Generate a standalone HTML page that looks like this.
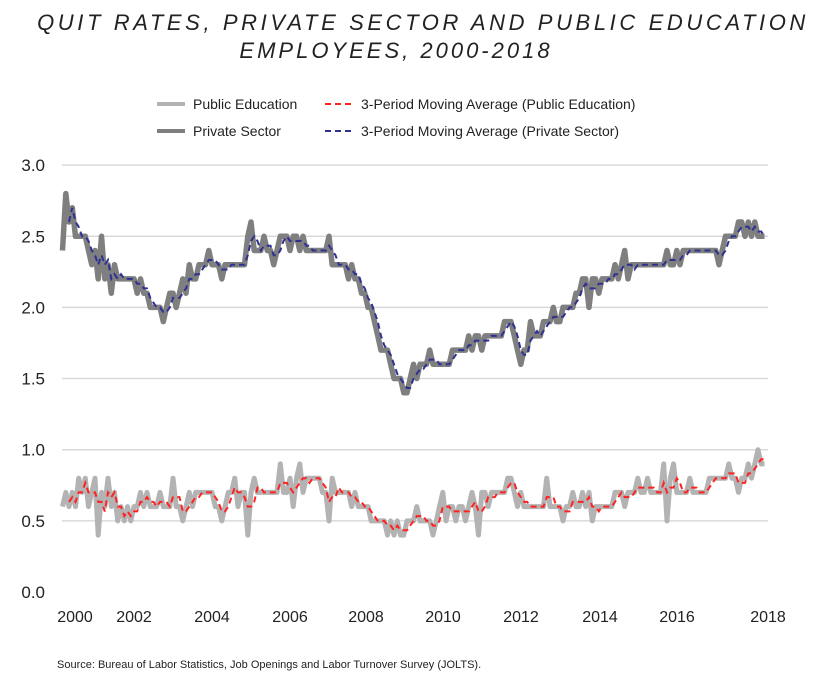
<!DOCTYPE html>
<html><head><meta charset="utf-8"><style>
body{margin:0;background:#fff;}
svg text{font-family:"Liberation Sans",Arial,sans-serif;}
</style></head><body>
<svg width="825" height="678" viewBox="0 0 825 678" xmlns="http://www.w3.org/2000/svg">
<rect width="825" height="678" fill="#fff"/>
<text x="423" y="30" text-anchor="middle" font-size="22" font-style="italic" letter-spacing="3.6" fill="#222">QUIT RATES, PRIVATE SECTOR AND PUBLIC EDUCATION</text>
<text x="396" y="58" text-anchor="middle" font-size="22" font-style="italic" letter-spacing="3" fill="#222">EMPLOYEES, 2000-2018</text>
<g font-size="14" fill="#222">
<g><line x1="157" y1="104" x2="185" y2="104" stroke="#b3b3b3" stroke-width="4"/><text x="193" y="109">Public Education</text></g>
<g><line x1="325" y1="104" x2="353" y2="104" stroke="#f22" stroke-width="2" stroke-dasharray="6,4"/><text x="361" y="109">3-Period Moving Average (Public Education)</text></g>
<g><line x1="157" y1="131" x2="185" y2="131" stroke="#7f7f7f" stroke-width="4"/><text x="193" y="136">Private Sector</text></g>
<g><line x1="325" y1="131" x2="353" y2="131" stroke="#2e3192" stroke-width="2" stroke-dasharray="6,4"/><text x="361" y="136">3-Period Moving Average (Private Sector)</text></g>
</g>
<g id="grid"></g>
<g id="yax"></g>
<g id="xax"></g>
<g id="series"></g>
<text x="57" y="668" font-size="11" fill="#222">Source: Bureau of Labor Statistics, Job Openings and Labor Turnover Survey (JOLTS).</text>
</svg>
<script>
const yTicks=[0,0.5,1.0,1.5,2.0,2.5,3.0];
const yTickLabels=["0.0","0.5","1.0","1.5","2.0","2.5","3.0"];
const xTickYears=[2000,2002,2004,2006,2008,2010,2012,2014,2016,2018];
const xTickLabels=["2000","2002","2004","2006","2008","2010","2012","2014","2016","2018"];
const startYear=2000;
const privateSector=[
2.4,2.8,2.6,2.7,2.5,2.5,2.5,2.5,2.4,2.3,2.4,2.2,
2.5,2.2,2.3,2.1,2.3,2.2,2.2,2.2,2.2,2.2,2.2,2.1,
2.2,2.1,2.1,2.0,2.0,2.0,2.0,1.9,2.0,2.1,2.1,2.0,
2.1,2.2,2.1,2.3,2.2,2.2,2.3,2.3,2.3,2.4,2.3,2.3,
2.3,2.2,2.3,2.3,2.3,2.3,2.3,2.3,2.3,2.5,2.6,2.4,
2.4,2.4,2.5,2.4,2.4,2.3,2.4,2.5,2.5,2.5,2.4,2.5,
2.5,2.4,2.5,2.4,2.4,2.4,2.4,2.4,2.4,2.4,2.5,2.3,
2.3,2.3,2.3,2.3,2.2,2.3,2.2,2.2,2.1,2.1,2.0,2.0,
1.9,1.8,1.7,1.7,1.7,1.6,1.5,1.5,1.5,1.4,1.4,1.5,
1.6,1.5,1.6,1.6,1.6,1.7,1.6,1.6,1.6,1.6,1.6,1.6,
1.7,1.7,1.7,1.7,1.7,1.8,1.7,1.8,1.8,1.7,1.8,1.8,
1.8,1.8,1.8,1.8,1.9,1.9,1.9,1.8,1.7,1.6,1.7,1.7,
1.9,1.8,1.8,1.8,1.9,1.9,1.9,2.0,1.9,1.9,2.0,2.0,
2.0,2.0,2.1,2.1,2.2,2.2,2.0,2.2,2.2,2.1,2.2,2.2,
2.2,2.2,2.3,2.2,2.3,2.4,2.2,2.3,2.3,2.3,2.3,2.3,
2.3,2.3,2.3,2.3,2.3,2.3,2.4,2.3,2.3,2.4,2.3,2.4,
2.4,2.4,2.4,2.4,2.4,2.4,2.4,2.4,2.4,2.4,2.3,2.4,
2.5,2.5,2.5,2.5,2.6,2.6,2.5,2.6,2.5,2.6,2.5,2.5,
2.5];
const publicEducation=[
0.6,0.7,0.6,0.7,0.6,0.8,0.7,0.8,0.6,0.7,0.8,0.4,
0.7,0.6,0.8,0.6,0.7,0.5,0.6,0.5,0.6,0.5,0.6,0.6,
0.7,0.6,0.7,0.6,0.6,0.6,0.7,0.6,0.6,0.6,0.8,0.6,
0.6,0.5,0.6,0.7,0.6,0.7,0.7,0.7,0.7,0.7,0.7,0.6,
0.6,0.5,0.6,0.7,0.7,0.8,0.6,0.7,0.7,0.4,0.7,0.8,
0.7,0.7,0.7,0.7,0.7,0.7,0.7,0.9,0.7,0.7,0.8,0.6,
0.8,0.9,0.7,0.8,0.8,0.8,0.8,0.8,0.7,0.7,0.5,0.8,
0.7,0.7,0.7,0.7,0.7,0.6,0.7,0.6,0.6,0.6,0.6,0.5,
0.5,0.5,0.5,0.5,0.4,0.5,0.4,0.5,0.4,0.4,0.5,0.5,
0.5,0.6,0.5,0.5,0.5,0.5,0.4,0.5,0.6,0.7,0.5,0.6,
0.6,0.5,0.6,0.6,0.5,0.6,0.7,0.6,0.4,0.7,0.7,0.6,
0.7,0.7,0.7,0.7,0.7,0.8,0.8,0.7,0.6,0.7,0.6,0.6,
0.6,0.6,0.6,0.6,0.6,0.8,0.6,0.6,0.6,0.6,0.5,0.6,
0.6,0.7,0.6,0.6,0.7,0.6,0.7,0.5,0.6,0.6,0.6,0.6,
0.6,0.6,0.7,0.7,0.7,0.6,0.7,0.7,0.7,0.8,0.7,0.7,
0.8,0.7,0.7,0.7,0.7,0.9,0.5,0.8,0.9,0.7,0.7,0.7,
0.7,0.8,0.7,0.7,0.7,0.7,0.7,0.8,0.8,0.8,0.8,0.8,
0.8,0.9,0.8,0.8,0.7,0.8,0.8,0.9,0.8,0.9,1.0,0.9,
0.9];
const NS="http://www.w3.org/2000/svg";
const yScale=v=>592-v*142.3;
const xScale=t=>56+(t-startYear)*39;
const xIdx=i=>xScale(startYear+(i+2)/12);
const xLabelPos=[75,134,212,290,366,443,521,600,677,768];
function mk(tag,attrs,parent){const e=document.createElementNS(NS,tag);for(const k in attrs)e.setAttribute(k,attrs[k]);parent.appendChild(e);return e;}
const grid=document.getElementById('grid'),yax=document.getElementById('yax'),xax=document.getElementById('xax'),ser=document.getElementById('series');
yTicks.forEach((v,i)=>{
 if(v>0){const l=mk('line',{x1:62,x2:768,y1:yScale(v),y2:yScale(v),stroke:'#d9d9d9','stroke-width':1.5},grid);
 
 }
 const t=mk('text',{x:45,y:yScale(v)+6,'text-anchor':'end','font-size':17,fill:'#222'},yax);t.textContent=yTickLabels[i];
 
 
});
xTickYears.forEach((y,i)=>{
 const t=mk('text',{x:xLabelPos[i],y:622,'text-anchor':'middle','font-size':16,fill:'#222'},xax);t.textContent=xTickLabels[i];
 
 
});
function ma(a){return a.map((v,i)=>i<2?null:(a[i]+a[i-1]+a[i-2])/3);}
function path(a){let d='';a.forEach((v,i)=>{if(v==null)return;d+=(d?'L':'M')+xIdx(i).toFixed(1)+','+yScale(v).toFixed(1);});return d;}
const p1=mk('path',{d:path(publicEducation),fill:'none',stroke:'#b3b3b3','stroke-width':5,'stroke-linejoin':'round'},ser);


const p2=mk('path',{d:path(privateSector),fill:'none',stroke:'#7f7f7f','stroke-width':5.5,'stroke-linejoin':'round'},ser);


const p3=mk('path',{d:path(ma(publicEducation)),fill:'none',stroke:'#f22','stroke-width':2,'stroke-dasharray':'6,4'},ser);


const p4=mk('path',{d:path(ma(privateSector)),fill:'none',stroke:'#2e3192','stroke-width':2,'stroke-dasharray':'6,4'},ser);


</script>
</body></html>
